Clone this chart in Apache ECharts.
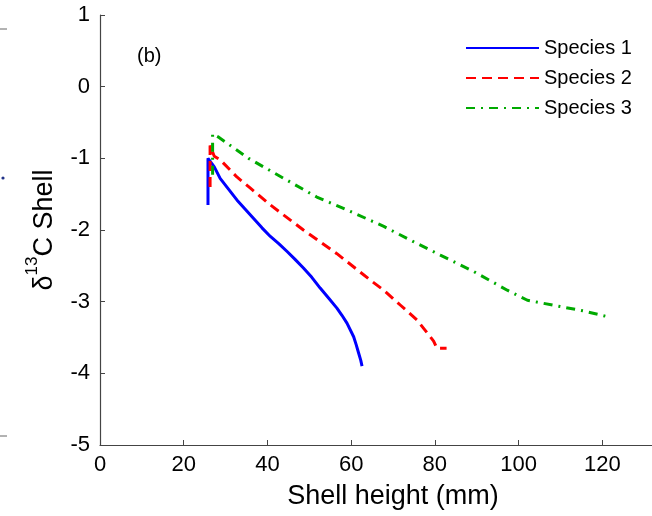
<!DOCTYPE html>
<html>
<head>
<meta charset="utf-8">
<script src="https://cdn.jsdelivr.net/npm/echarts@6/dist/echarts.min.js"></script>
<style>html,body{margin:0;padding:0;background:#fff}#c{width:652px;height:516px}</style>
</head>
<body>
<div id="c"></div>
<script>
const seriesNames = ['Species 1', 'Species 2', 'Species 3'];
const s1x = [25.8, 25.8, 27.3, 28.7, 30.7, 32.7, 34.7, 36.7, 38.7, 40.7, 42.7, 44.7, 46.6, 48.6, 50.6, 52.6, 54.6, 56.6, 57.8, 59.0, 60.6, 61.2, 61.8, 62.3, 62.6];
const s1y = [-1.65, -1.0, -1.12, -1.28, -1.43, -1.58, -1.71, -1.84, -1.97, -2.09, -2.19, -2.30, -2.41, -2.53, -2.66, -2.81, -2.95, -3.09, -3.19, -3.30, -3.49, -3.60, -3.72, -3.82, -3.90];
const s2x = [26.3, 26.3, 27.3, 28.7, 32.7, 36.0, 40.7, 48.6, 56.6, 64.6, 67.8, 71.8, 75.8, 79.7, 80.5, 82.8];
const s2y = [-1.40, -0.82, -0.97, -1.02, -1.26, -1.42, -1.65, -2.0, -2.33, -2.70, -2.84, -3.05, -3.26, -3.55, -3.65, -3.65];
const s3x = [26.9, 26.9, 28.2, 35.5, 43.9, 51.8, 59.8, 67.8, 75.8, 81.3, 89.3, 97.3, 102.1, 109.2, 115.6, 122.0];
const s3y = [-1.23, -0.66, -0.70, -1.0, -1.28, -1.54, -1.74, -1.95, -2.19, -2.35, -2.58, -2.84, -2.98, -3.06, -3.13, -3.22];
const xTicks = {min: 0, max: 140, interval: 20};
const yTicks = {min: -5, max: 1, interval: 1};

const pairs = (xs, ys) => xs.map((x, i) => [x, ys[i]]);
const font = 'Arial, "Liberation Sans", Helvetica, sans-serif';
const chart = echarts.init(document.getElementById('c'), null, {renderer: 'canvas'});
chart.setOption({
  animation: false,
  backgroundColor: '#fff',
  textStyle: {fontFamily: font, color: '#000'},
  grid: {left: 100, top: 15, height: 430, width: 586, containLabel: false, outerBoundsMode: 'none'},
  legend: {
    orient: 'vertical', left: 460, top: 33,
    itemWidth: 73, itemHeight: 14, itemGap: 10,
    itemStyle: {opacity: 0},
    textStyle: {fontSize: 20, fontFamily: font, color: '#000'},
    data: seriesNames
  },
  xAxis: {
    type: 'value', min: xTicks.min, max: xTicks.max, interval: xTicks.interval,
    name: 'Shell height (mm)', nameLocation: 'middle', nameGap: 38,
    nameTextStyle: {fontSize: 27, color: '#000', fontFamily: font},
    axisLine: {onZero: false, lineStyle: {color: '#444', width: 1.2}},
    axisTick: {inside: true, length: 5, lineStyle: {color: '#444'}},
    axisLabel: {fontSize: 22, color: '#000', margin: 9, fontFamily: font},
    splitLine: {show: false}
  },
  yAxis: {
    type: 'value', min: yTicks.min, max: yTicks.max, interval: yTicks.interval,
    name: '{d|δ}{s|13}{d|C Shell}', nameLocation: 'middle', nameGap: 42, nameRotate: 90,
    nameTextStyle: {
      rich: {
        d: {fontSize: 27, fontFamily: font, color: '#000', lineHeight: 34, verticalAlign: 'bottom'},
        s: {fontSize: 17, fontFamily: font, color: '#000', lineHeight: 34, verticalAlign: 'top'}
      }
    },
    axisLine: {onZero: false, lineStyle: {color: '#444', width: 1.2}},
    axisTick: {inside: true, length: 5, lineStyle: {color: '#444'}},
    axisLabel: {fontSize: 22, color: '#000', margin: 10, fontFamily: font},
    splitLine: {show: false}
  },
  graphic: [
    {type: 'text', left: 137, top: 46, style: {text: '(b)', fontSize: 20, fontFamily: font, fill: '#000'}},
    {type: 'line', shape: {x1: 0, y1: 29, x2: 7, y2: 29}, style: {stroke: '#666', lineWidth: 1}},
    {type: 'line', shape: {x1: 0, y1: 436, x2: 7, y2: 436}, style: {stroke: '#666', lineWidth: 1}},
    {type: 'circle', shape: {cx: 3, cy: 178, r: 1.6}, style: {fill: '#223388'}}
  ],
  series: [
    {name: seriesNames[0], type: 'line', data: pairs(s1x, s1y), symbol: 'none', color: '#0000ff',
     lineStyle: {color: '#0000ff', width: 3, type: 'solid'}},
    {name: seriesNames[1], type: 'line', data: pairs(s2x, s2y), symbol: 'none', color: '#ff0000',
     lineStyle: {color: '#ff0000', width: 3, type: [10, 6]}},
    {name: seriesNames[2], type: 'line', data: pairs(s3x, s3y), symbol: 'none', color: '#00aa00',
     lineStyle: {color: '#00aa00', width: 3, type: [9, 6, 2, 6]}}
  ]
});
</script>
</body>
</html>
